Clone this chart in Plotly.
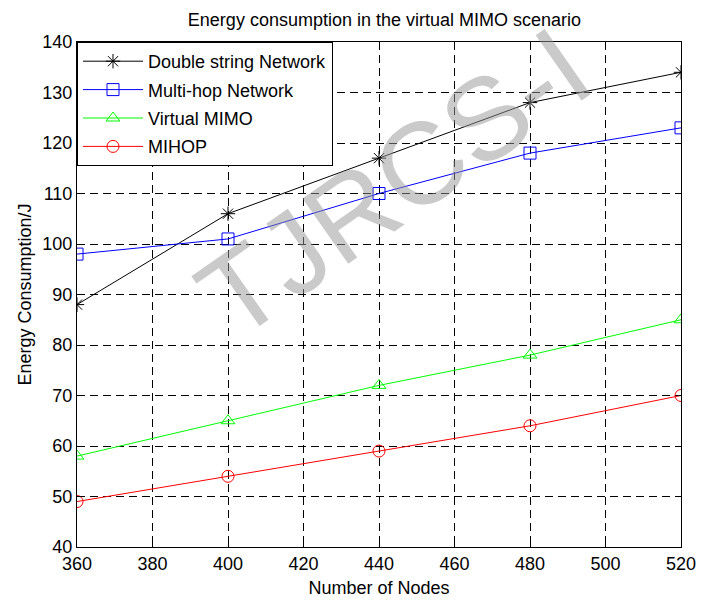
import plotly.graph_objects as go

nodes = [360, 400, 440, 480, 520]
double_string = [88, 106, 117, 128, 134]
multi_hop = [98, 101, 110, 118, 123]
virtual_mimo = [58, 65, 72, 78, 85]
mihop = [49, 54, 59, 64, 70]

series = [
    ("Double string Network", double_string, "black", "asterisk-open"),
    ("Multi-hop Network", multi_hop, "#0000ff", "square-open"),
    ("Virtual MIMO", virtual_mimo, "#00ff00", "triangle-up-open"),
    ("MIHOP", mihop, "#ff0000", "circle-open"),
]

FONT = "Liberation Sans, Arial, sans-serif"
FS = 18

fig = go.Figure()
for i, (name, vals, color, sym) in enumerate(series):
    fig.add_trace(go.Scatter(
        x=nodes, y=vals, name=name, mode="lines+markers",
        line=dict(color=color, width=1),
        marker=dict(symbol=sym, size=12, color=color, line=dict(color=color, width=1)),
        legendgroup=f"g{i}",
    ))

axis_common = dict(
    showline=True, linecolor="black", linewidth=1, mirror="ticks",
    ticks="inside", ticklen=5, tickcolor="black",
    showgrid=True, gridcolor="black", gridwidth=1, griddash="8px,5px",
    zeroline=False, tickfont=dict(family=FONT, size=FS, color="black"),
)

fig.update_xaxes(range=[360, 520], dtick=20, tick0=360,
                 title=dict(text="Number of Nodes", font=dict(family=FONT, size=FS, color="black"), standoff=8),
                 **axis_common)
fig.update_yaxes(range=[40, 140], dtick=10, tick0=40,
                 title=dict(text="Energy Consumption/J", font=dict(family=FONT, size=FS, color="black"), standoff=6),
                 **axis_common)

fig.add_annotation(
    text="TJRCS-I", xref="paper", yref="paper", x=0.525, y=0.72,
    xanchor="center", yanchor="middle",
    showarrow=False, textangle=-35,
    font=dict(family=FONT, size=116, color="rgba(150,150,150,0.5)"),
)

fig.update_layout(
    width=708, height=606,
    margin=dict(l=77, r=16, t=42, b=51),
    paper_bgcolor="white", plot_bgcolor="white",
    title=dict(text="Energy consumption in the virtual MIMO scenario",
               x=0.543, xanchor="center", y=0.967, yanchor="middle",
               font=dict(family=FONT, size=FS, color="black")),
    legend=dict(x=0, y=1, xanchor="left", yanchor="top",
                bordercolor="black", borderwidth=1, bgcolor="white",
                font=dict(family=FONT, size=FS, color="black"),
                itemwidth=60, tracegroupgap=2),
    showlegend=True,
)

fig.write_html("out.html")
